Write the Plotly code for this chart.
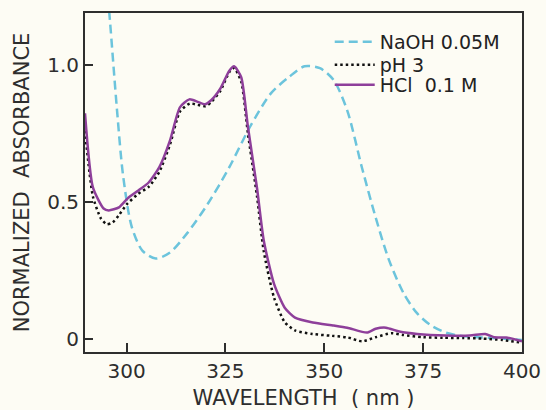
import plotly.graph_objects as go

# NaOH 0.05M (dashed)
naoh_x = [295.3, 295.8, 297.6, 299.1, 301.3, 304.0, 307.4, 311.0, 315.3, 320.6, 326.0, 331.2, 336.5, 341.0, 345.0,
          348.9, 352.4, 355.8, 359.5, 363.0, 366.4, 370.1, 373.5, 377.0, 380.7, 384.0, 390.0, 395.0, 400.0]
naoh_y = [1.25, 1.165, 0.835, 0.60, 0.41, 0.322, 0.293, 0.315, 0.385, 0.494, 0.627, 0.774, 0.897, 0.956, 0.996,
          0.989, 0.945, 0.835, 0.627, 0.443, 0.286, 0.165, 0.092, 0.048, 0.022, 0.011, 0.004, 0.0, -0.005]

# pH 3 (dotted)
ph3_x = [289.5, 291.5, 293.5, 295.0, 296.5, 298.0, 300.0, 303.0, 305.6, 308.3, 311.0, 313.5, 316.0, 318.0, 320.0,
         321.4, 323.7, 326.0, 327.2, 329.0, 330.7, 333.0, 334.7, 337.3, 340.0, 342.6, 347.0, 352.0, 356.0,
         359.5, 363.0, 367.0, 370.0, 375.0, 380.0, 385.0, 390.0, 395.0, 400.0]
ph3_y = [0.76, 0.52, 0.44, 0.418, 0.425, 0.45, 0.49, 0.53, 0.555, 0.61, 0.71, 0.83, 0.86, 0.855, 0.85,
         0.865, 0.905, 0.975, 0.99, 0.94, 0.75, 0.52, 0.32, 0.15, 0.06, 0.03, 0.017, 0.01, 0.004,
         -0.01, 0.005, 0.02, 0.013, 0.005, 0.003, 0.002, 0.0, -0.005, -0.015]

# HCl 0.1 M (solid)
hcl_x = [289.5, 291.5, 294.2, 295.5, 298.1, 300.3, 303.0, 305.6, 308.3, 311.0, 313.5, 315.9, 318.0, 319.8,
         321.4, 323.7, 326.0, 327.2, 329.0, 330.7, 333.0, 334.7, 337.3, 340.0, 342.6, 347.1, 352.4, 355.8,
         360.8, 363.0, 365.6, 369.0, 373.5, 380.7, 386.8, 390.7, 392.9, 396.0, 400.0]
hcl_y = [0.824, 0.553, 0.476, 0.469, 0.48, 0.513, 0.542, 0.571, 0.627, 0.725, 0.846, 0.875, 0.866, 0.857,
         0.872, 0.914, 0.98, 0.996, 0.956, 0.774, 0.55, 0.359, 0.20, 0.113, 0.077, 0.059, 0.048, 0.04,
         0.022, 0.036, 0.04, 0.026, 0.017, 0.011, 0.011, 0.017, 0.005, 0.004, -0.01]

x_ticks = [300, 325, 350, 375, 400]
y_ticks = [0, 0.5, 1.0]
y_tick_text = ["0", "0.5", "1.0"]

BG = "#fdfcf4"
FONT = "DejaVu Sans"
AX = "#2e2e2e"

fig = go.Figure()
fig.add_trace(go.Scatter(x=naoh_x, y=naoh_y, mode="lines", name="NaOH 0.05M", legend="legend",
                         line=dict(color="#6cc4dc", width=2.5, dash="9px,5px", shape="spline", smoothing=0.8)))
fig.add_trace(go.Scatter(x=ph3_x, y=ph3_y, mode="lines", name="pH 3", legend="legend2",
                         line=dict(color="#111111", width=2.5, dash="2.5px,3px", shape="spline", smoothing=0.6)))
fig.add_trace(go.Scatter(x=hcl_x, y=hcl_y, mode="lines", name="HCl  0.1 M", legend="legend3",
                         line=dict(color="#8e3f9a", width=2.5, shape="spline", smoothing=0.6)))

leg_common = dict(xanchor="left", yanchor="middle", bgcolor="rgba(0,0,0,0)",
                  font=dict(size=19, color="#222222"), itemwidth=40)
fig.update_layout(
    width=546, height=410,
    margin=dict(l=85, r=24, t=13, b=58),
    paper_bgcolor=BG, plot_bgcolor=BG,
    font=dict(family=FONT, color=AX, size=19),
    showlegend=True,
    legend=dict(x=0.56, y=0.915, **leg_common),
    legend2=dict(x=0.56, y=0.847, **leg_common),
    legend3=dict(x=0.56, y=0.788, **leg_common),
)
fig.update_xaxes(range=[289.5, 400], tickvals=x_ticks, ticks="inside", ticklen=9, tickwidth=2,
                 tickcolor=AX, showline=True, linewidth=2, linecolor=AX, mirror=True, automargin=False,
                 showgrid=False, zeroline=False, tickfont=dict(size=20),
                 title=dict(text="WAVELENGTH  ( nm )", font=dict(size=21), standoff=10))
fig.update_yaxes(range=[-0.049, 1.191], tickvals=y_ticks, ticktext=y_tick_text, ticks="inside", ticklen=8,
                 tickwidth=2, tickcolor=AX, showline=True, linewidth=2, linecolor=AX, mirror=True,
                 automargin=False, showgrid=False, zeroline=False, tickfont=dict(size=20),
                 title=dict(text="NORMALIZED  ABSORBANCE", font=dict(size=21), standoff=12))

post = ("document.body.style.margin='0';document.body.style.padding='0';"
        "document.body.style.overflow='hidden';document.body.style.background='" + BG + "';")
fig.write_html("out.html", post_script=post, config={"displayModeBar": False})
